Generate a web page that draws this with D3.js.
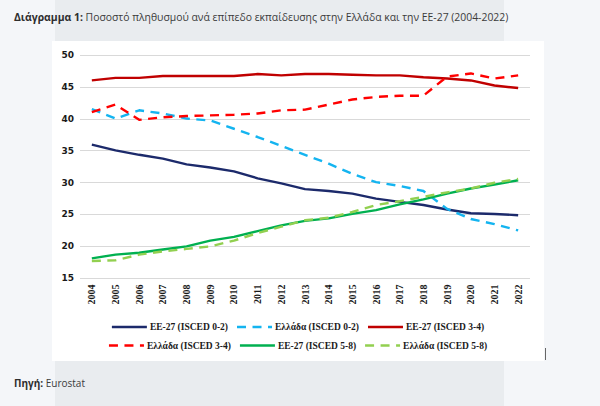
<!DOCTYPE html>
<html>
<head>
<meta charset="utf-8">
<script src="https://cdn.jsdelivr.net/npm/d3@7"></script>
<style>
  html, body { margin: 0; padding: 0; background: #f4f6f9; }
  svg { display: block; }
</style>
</head>
<body>
<svg id="chart" width="600" height="406"></svg>
<script>
const years = ["2004","2005","2006","2007","2008","2009","2010","2011","2012","2013","2014","2015","2016","2017","2018","2019","2020","2021","2022"];
const yTicks = [15, 20, 25, 30, 35, 40, 45, 50];

const eu_0_2 = [35.9, 35.0, 34.3, 33.7, 32.8, 32.3, 31.7, 30.6, 29.8, 28.9, 28.6, 28.2, 27.4, 26.9, 26.4, 25.7, 25.1, 25.0, 24.8];
const gr_0_2 = [41.5, 40.0, 41.3, 40.8, 40.0, 39.7, 38.4, 37.1, 35.7, 34.3, 32.9, 31.3, 30.0, 29.4, 28.6, 25.8, 24.2, 23.4, 22.4];
const eu_3_4 = [46.0, 46.4, 46.4, 46.7, 46.7, 46.7, 46.7, 47.0, 46.8, 47.0, 47.0, 46.9, 46.8, 46.8, 46.5, 46.3, 46.0, 45.2, 44.8];
const gr_3_4 = [41.0, 42.2, 39.8, 40.2, 40.4, 40.5, 40.6, 40.8, 41.3, 41.4, 42.2, 43.0, 43.4, 43.6, 43.6, 46.6, 47.1, 46.3, 46.8];
const eu_5_8 = [18.0, 18.6, 18.9, 19.4, 19.9, 20.8, 21.4, 22.3, 23.2, 23.9, 24.3, 25.0, 25.6, 26.5, 27.3, 28.2, 29.0, 29.6, 30.3];
const gr_5_8 = [17.6, 17.7, 18.6, 19.1, 19.5, 19.9, 20.8, 22.0, 23.0, 24.0, 24.4, 25.3, 26.4, 27.0, 27.7, 28.4, 29.0, 29.9, 30.5];

const seriesNames = ["EE-27 (ISCED 0-2)", "Ελλάδα (ISCED 0-2)", "EE-27 (ISCED 3-4)", "Ελλάδα (ISCED 3-4)", "EE-27 (ISCED 5-8)", "Ελλάδα (ISCED 5-8)"];
const seriesValues = [eu_0_2, gr_0_2, eu_3_4, gr_3_4, eu_5_8, gr_5_8];
const seriesColors = ["#1c2a6b", "#14b4f0", "#c00000", "#ff0000", "#00b050", "#92d050"];
const seriesDashed = [false, true, false, true, false, true];

const svg = d3.select("#chart");

// background panels
svg.append("rect").attr("x", 55).attr("y", 0).attr("width", 449).attr("height", 406).attr("fill", "#e9ecef");
svg.append("rect").attr("x", 52).attr("y", 41).attr("width", 492).attr("height", 320).attr("fill", "#ffffff");
svg.append("line").attr("x1", 545.5).attr("x2", 545.5).attr("y1", 348).attr("y2", 360).attr("stroke", "#666").attr("stroke-width", 1);

// title
const title = svg.append("text").attr("x", 14).attr("y", 21)
  .attr("font-family", "'Open Sans', sans-serif").attr("font-size", 10.4).attr("fill", "#3b3b3b");
title.append("tspan").attr("font-weight", "bold").attr("fill", "#2e2e2e").text("Διάγραμμα 1:");
title.append("tspan").text(" Ποσοστό πληθυσμού ανά επίπεδο εκπαίδευσης στην Ελλάδα και την ΕΕ-27 (2004-2022)");

// source
const src = svg.append("text").attr("x", 14).attr("y", 387)
  .attr("font-family", "'Open Sans', sans-serif").attr("font-size", 10).attr("fill", "#3b3b3b");
src.append("tspan").attr("font-weight", "bold").attr("fill", "#2e2e2e").text("Πηγή:");
src.append("tspan").text(" Eurostat");

// scales
const x = d3.scaleBand().domain(years).range([80, 530]);
const xc = d => x(d) + x.bandwidth() / 2;
const y = d3.scaleLinear().domain([15, 50]).range([277.5, 55]);

// gridlines
svg.append("g").selectAll("line").data(yTicks).join("line")
  .attr("x1", 80).attr("x2", 530)
  .attr("y1", d => Math.round(y(d)) + 0.5).attr("y2", d => Math.round(y(d)) + 0.5)
  .attr("stroke", "#d9d9d9").attr("stroke-width", 1);

// y axis
const yAxis = d3.axisLeft(y).tickValues(yTicks).tickSize(0).tickPadding(6).tickFormat(d3.format("d"));
const gy = svg.append("g").attr("transform", "translate(80,0)").call(yAxis);
gy.select(".domain").remove();
gy.selectAll("text").attr("font-family", "'DejaVu Sans', sans-serif").attr("font-weight", "bold")
  .attr("font-size", 9).attr("fill", "#1a1a1a");

// x axis
const xAxis = d3.axisBottom(x).tickSize(0).tickPadding(0);
const gx = svg.append("g").attr("transform", "translate(0,277.5)").call(xAxis);
gx.select(".domain").remove();
gx.selectAll("text")
  .attr("font-family", "'Liberation Serif', serif").attr("font-weight", "bold").attr("font-size", 10).attr("fill", "#1a1a1a")
  .attr("transform", "rotate(-90)").attr("text-anchor", "end").attr("dy", "0.35em").attr("x", -7).attr("y", 0);

// lines
const line = d3.line().x((d, i) => xc(years[i])).y(d => y(d));
const order = [0, 1, 2, 3, 4, 5];
svg.append("g").selectAll("path").data(order).join("path")
  .attr("d", i => line(seriesValues[i]))
  .attr("fill", "none")
  .attr("stroke", i => seriesColors[i])
  .attr("stroke-width", 2.4)
  .attr("stroke-linejoin", "round")
  .attr("stroke-dasharray", i => seriesDashed[i] ? "9,6.5" : null);

// legend
const legendRows = [[0, 1, 2], [3, 4, 5]];
const legendRowY = [327, 345.5];
const legendG = svg.append("g");
legendRows.forEach((row, r) => {
  const rowG = legendG.append("g");
  let cx = 0;
  row.forEach(i => {
    const it = rowG.append("g").attr("transform", `translate(${cx},0)`);
    it.append("line").attr("x1", 0).attr("x2", 35).attr("y1", 0).attr("y2", 0)
      .attr("stroke", seriesColors[i]).attr("stroke-width", 2.4)
      .attr("stroke-dasharray", seriesDashed[i] ? "9,6.5" : null);
    const t = it.append("text").attr("x", 38).attr("y", 0).attr("dy", "0.35em")
      .attr("font-family", "'Liberation Serif', serif").attr("font-weight", "bold")
      .attr("font-size", 9.5).attr("fill", "#1a1a1a").text(seriesNames[i]);
    cx += 38 + t.node().getComputedTextLength() + 9;
  });
  const w = cx - 9;
  rowG.attr("transform", `translate(${(298 - w / 2)},${legendRowY[r]})`);
});
</script>
</body>
</html>
